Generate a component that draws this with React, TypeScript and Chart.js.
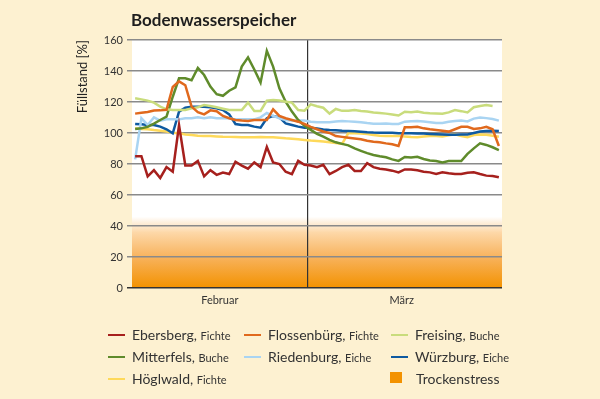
import React, { useEffect, useRef } from "react";
import { Chart, registerables } from "chart.js";

Chart.register(...registerables);

// ---- data (daily values, 1 Feb .. 31 Mar) ----
const monthLabels = ["Februar", "März"];
const daysPerMonth = [28, 31];
const yTicks = [0, 20, 40, 60, 80, 100, 120, 140, 160];
const stressLimit = 40;

const ebersberg = [
  85, 85, 72, 76, 71, 78, 75, 105, 79, 79, 82, 72, 76, 73, 74.5, 73.5, 81.5, 79, 77, 81, 78, 91, 81, 80, 75, 73.5, 82, 79.5,
  79, 78, 79.5, 73.5, 75.5, 78, 79.5, 75.5, 75.5, 80.5, 78, 77, 76.5, 75.7, 74.6, 76.5, 76.5, 76, 75, 74.6, 73.5, 74.6, 74, 73.5,
  73.5, 74.4, 74.6, 73.5, 72.5, 72.3, 71.4,
];
const flossenbuerg = [
  112.5, 113, 113.5, 114.5, 114.6, 115, 129.7, 133.3, 130.8, 117, 113.5, 112, 114.6, 114, 111, 109.5, 108.4, 108, 107.7, 108.4,
  108.4, 108.4, 115.3, 111, 109.5, 108.4, 107.3, 105.8,
  104, 102.4, 101, 100, 98, 97.5, 97, 96.5, 96, 95, 94.4, 94, 93.3, 92.7, 91.6, 103.7, 103.7, 104, 103, 102.4, 102, 101.5, 100.9,
  102.4, 104, 104, 102.6, 103, 104, 102.4, 91.6,
];
const freising = [
  122.4, 121.7, 120.9, 119.6, 117, 115.3, 114.8, 114.8, 114.8, 115.9, 116.6, 118, 117.4, 116.6, 115.7, 114.8, 114.8, 114.8, 119.6,
  114.2, 114.2, 120.9, 121.3, 120.9, 120.2, 119.6, 114.8, 114.4,
  118.5, 117.3, 116.3, 112.5, 115.5, 114.3, 114.4, 114.8, 114.2, 113.8, 113.2, 112.9, 112.5, 112, 111.3, 113.7, 113.4, 113.8, 113.1,
  112.8, 112.6, 112.4, 113.3, 114.8, 114.1, 113.3, 116.6, 117.4, 118, 117.4, null,
];
const mitterfels = [
  102.6, 103, 104, 106, 108.4, 110.5, 123.4, 135.3, 135.3, 134, 142, 137.4, 130, 125, 124, 127.3, 129.5, 142.8, 148.8, 141, 132.5,
  153, 142.8, 128.8, 120.2, 113.8, 108.4, 104.7,
  102, 99.5, 97.6, 95.5, 94, 93, 92, 90.1, 88.5, 87, 85.8, 85, 84.3, 83, 82, 84.5, 84.2, 84.7, 83.2, 82.3, 81.9, 81, 81.9, 81.9,
  81.9, 86.5, 90.1, 93.3, 92.3, 90.8, 89,
];
const riedenburg = [
  83, 109.5, 105.2, 110.1, 108, 108.8, 108.8, 108.8, 109.5, 109.5, 110.1, 109.5, 110.1, 109.5, 109.5, 109.5, 108.8, 108.8, 108.8,
  108.8, 110.1, 113, 111, 109.5, 108.4, 108, 108, 108,
  107.3, 107, 106.9, 106.9, 107.4, 107.7, 107.5, 107.2, 106.9, 106.4, 106, 105.9, 106.2, 105.8, 105.8, 107.3, 107.6, 107.7, 107.4,
  106.9, 106.4, 106.5, 107.3, 107.7, 108, 107.5, 109.3, 110, 109.6, 109, 108,
];
const wuerzburg = [
  105.8, 105.6, 105.2, 105.2, 104.1, 102.4, 99.8, 113.8, 116.3, 117, 117, 117, 116.6, 115.9, 114.8, 112, 105.8, 105.2, 105.2,
  104.1, 103.4, 109.5, 111, 110.1, 106.2, 105.2, 104.1, 103.4,
  103.4, 102.9, 102.3, 101.9, 101.7, 101.4, 101.3, 101.1, 100.8, 100.5, 100.3, 100.2, 100.2, 100.1, 99.9, 99.8, 99.8, 99.7, 99.6,
  99.4, 99.2, 99, 98.8, 98.9, 99.1, 99.1, 100, 100.9, 101.3, 101.5, 101.3,
];
const hoeglwald = [
  103, 102.6, 102.4, 101.9, 101.5, 100.9, 100.2, 99.8, 99.1, 98.7, 98.3, 98.1, 98, 97.8, 97.6, 97.5, 97.4, 97.3, 97.2, 97.3, 97.4,
  97.3, 97.2, 97, 96.6, 96.3, 95.9, 95.5,
  95.1, 94.8, 94.5, 94, 93.5, 93, 100, 99.8, 99.6, 99.3, 98.7, 98.3, 98.1, 98.1, 98, 97.7, 97.4, 97.2, 97.7, 98.1, 98.1, 97.8, 98.5,
  99.2, 98.1, 97.3, 98.7, 99.1, 98.8, 98.2, 97.6,
];

const series = [
  { name: "Ebersberg", species: "Fichte", color: "#a6201d", data: ebersberg },
  { name: "Flossenbürg", species: "Fichte", color: "#e0691d", data: flossenbuerg },
  { name: "Freising", species: "Buche", color: "#c9dc7c", data: freising },
  { name: "Mitterfels", species: "Buche", color: "#5f8b2b", data: mitterfels },
  { name: "Riedenburg", species: "Eiche", color: "#a9d4f2", data: riedenburg },
  { name: "Würzburg", species: "Eiche", color: "#0e5aa1", data: wuerzburg },
  { name: "Höglwald", species: "Fichte", color: "#fed95a", data: hoeglwald },
];

const FONT = 'Lato, "Noto Sans", sans-serif';
const BG = "#fdf1d1";

const bgPlugin = {
  id: "plotBackground",
  beforeDraw(chart: any) {
    const { ctx, chartArea: a, scales } = chart;
    const y = scales.y;
    ctx.save();
    ctx.fillStyle = "#ffffff";
    ctx.fillRect(a.left, a.top, a.right - a.left, a.bottom - a.top);
    const yTop = y.getPixelForValue(stressLimit + 6);
    const yBot = y.getPixelForValue(0);
    const g = ctx.createLinearGradient(0, yTop, 0, yBot);
    g.addColorStop(0, "rgba(253,225,190,0)");
    g.addColorStop(0.09, "rgba(253,226,192,0.6)");
    g.addColorStop(0.22, "#fdd8a8");
    g.addColorStop(0.56, "#f8b35e");
    g.addColorStop(1, "#f39200");
    ctx.fillStyle = g;
    ctx.fillRect(a.left, yTop, a.right - a.left, yBot - yTop);
    ctx.restore();
  },
};

const febDays = daysPerMonth[0];
const totalDays = daysPerMonth[0] + daysPerMonth[1];
const monthCenters = [(febDays - 1) / 2, febDays - 0.5 + daysPerMonth[1] / 2 - 0.5];
const monthBoundary = febDays - 0.5;

function ChartCanvas() {
  const ref = useRef<HTMLCanvasElement | null>(null);
  useEffect(() => {
    if (!ref.current) return;
    const chart = new Chart(ref.current, {
      type: "line",
      data: {
        datasets: series.map((s) => ({
          label: s.name,
          data: s.data.map((v, i) => ({ x: i, y: v })),
          borderColor: s.color,
          backgroundColor: s.color,
          borderWidth: 2.5,
          pointRadius: 0,
          tension: 0,
          fill: false,
        })),
      },
      options: {
        animation: false,
        responsive: false,
        devicePixelRatio: 1,
        layout: { padding: { left: 0, right: 98, top: 40, bottom: 81 } },
        plugins: { legend: { display: false }, tooltip: { enabled: false }, title: { display: false } },
        scales: {
          x: {
            type: "linear",
            min: -0.5,
            max: totalDays - 0.5,
            afterBuildTicks: (s: any) => {
              s.ticks = [{ value: monthCenters[0] }, { value: monthBoundary }, { value: monthCenters[1] }];
            },
            afterFit: (s: any) => {
              s.height = 30;
            },
            ticks: {
              autoSkip: false,
              maxRotation: 0,
              padding: 6,
              color: "#333",
              font: { family: FONT, size: 11 },
              callback: (v: any) => (v === monthCenters[0] ? monthLabels[0] : v === monthCenters[1] ? monthLabels[1] : ""),
            },
            grid: {
              drawTicks: false,
              lineWidth: 1.2,
              color: (c: any) => (c.tick && c.tick.value === monthBoundary ? "#333333" : "rgba(0,0,0,0)"),
            },
            border: { display: false },
          },
          y: {
            min: 0,
            max: 160,
            afterBuildTicks: (s: any) => {
              s.ticks = yTicks.map((v) => ({ value: v }));
            },
            afterFit: (s: any) => {
              s.width = 132;
            },
            ticks: {
              padding: 4,
              color: "#333",
              font: { family: FONT, size: 11 },
            },
            grid: {
              tickLength: 5,
              lineWidth: 1.5,
              color: (c: any) => (c.tick && c.tick.value === 0 ? "#333333" : "#8a8a8a"),
            },
            border: { display: false },
            title: {
              display: true,
              text: "Füllstand [%]",
              align: "end",
              color: "#222",
              font: { family: FONT, size: 13 },
              padding: { top: 75, bottom: 0 },
            },
          },
        },
      },
      plugins: [bgPlugin],
    } as any);
    return () => chart.destroy();
  }, []);
  return <canvas ref={ref} width={600} height={399} style={{ position: "absolute", left: 0, top: 0, width: 600, height: 399 }} />;
}

const legendCols = [108, 244, 391];
const legendRows = [340.7, 362.3, 384];

export default function App() {
  useEffect(() => {
    document.body.style.margin = "0";
  }, []);
  return (
    <div style={{ position: "relative", width: 600, height: 399, background: BG, overflow: "hidden", fontFamily: FONT }}>
      <ChartCanvas />
      <div
        style={{
          position: "absolute",
          left: 131,
          top: 10.5,
          fontSize: 17,
          lineHeight: "17px",
          fontWeight: 700,
          color: "#1e1e1e",
          whiteSpace: "nowrap",
        }}
      >
        Bodenwasserspeicher
      </div>
      {series.map((s, i) => {
        const col = legendCols[i % 3];
        const base = legendRows[Math.floor(i / 3)];
        return (
          <React.Fragment key={s.name}>
            <div style={{ position: "absolute", left: col, top: base - 6.5, width: 17, height: 2, background: s.color }} />
            <div
              style={{
                position: "absolute",
                left: col + 24,
                top: base - 12.4,
                fontSize: 14,
                lineHeight: "14px",
                color: "#333",
                whiteSpace: "nowrap",
              }}
            >
              {s.name + ", "}
              <span style={{ fontSize: 11 }}>{s.species}</span>
            </div>
          </React.Fragment>
        );
      })}
      <div style={{ position: "absolute", left: 390, top: 371.5, width: 12, height: 11.5, background: "#f39200" }} />
      <div
        style={{
          position: "absolute",
          left: 416,
          top: legendRows[2] - 12.4,
          fontSize: 14,
          lineHeight: "14px",
          color: "#333",
          whiteSpace: "nowrap",
        }}
      >
        Trockenstress
      </div>
    </div>
  );
}
